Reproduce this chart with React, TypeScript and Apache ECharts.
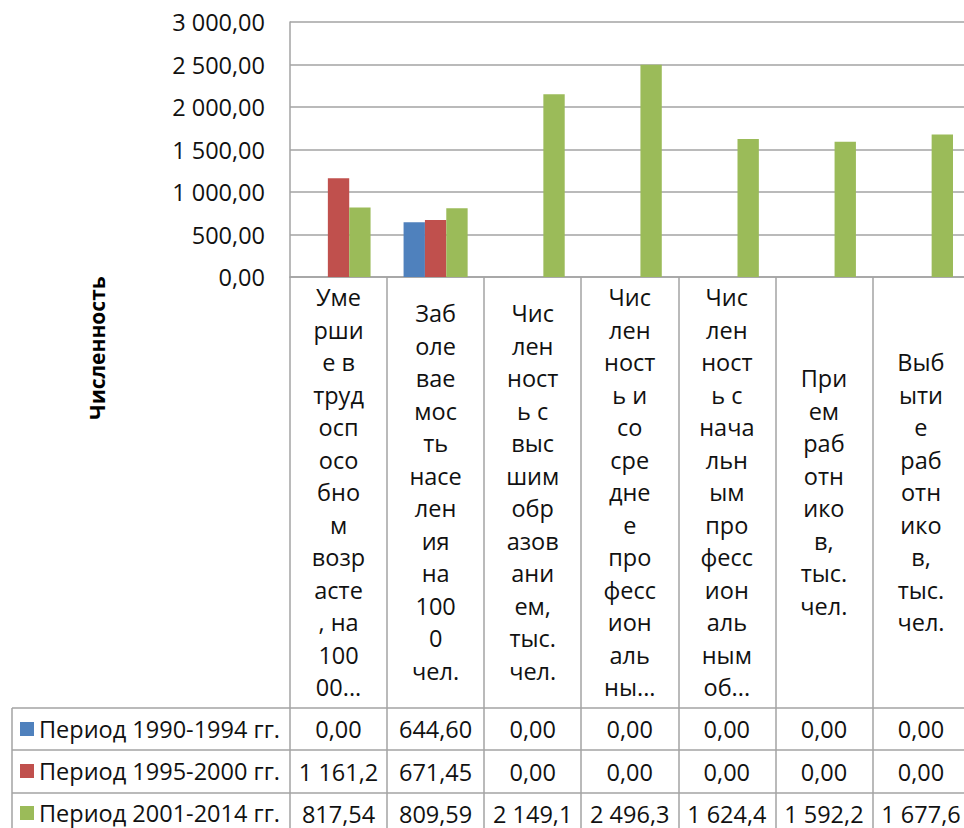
import React, { useEffect, useRef } from "react";
import * as echarts from "echarts";

// Indicator names, pre-wrapped the way the table header cells show them
const categories: string[] = [
  "Уме\nрши\nе в\nтруд\nосп\nосо\nбно\nм\nвозр\nасте\n, на\n100\n00...",
  "Заб\nоле\nвае\nмос\nть\nнасе\nлен\nия\nна\n100\n0\nчел.",
  "Чис\nлен\nност\nь с\nвыс\nшим\nобр\nазов\nани\nем,\nтыс.\nчел.",
  "Чис\nлен\nност\nь и\nсо\nсре\nдне\nе\nпро\nфесс\nион\nаль\nны...",
  "Чис\nлен\nност\nь с\nнача\nльн\nым\nпро\nфесс\nион\nаль\nным\nоб...",
  "При\nем\nраб\nотн\nико\nв,\nтыс.\nчел.",
  "Выб\nыти\nе\nраб\nотн\nико\nв,\nтыс.\nчел.",
];

const seriesNames: string[] = [
  "Период 1990-1994 гг.",
  "Период 1995-2000 гг.",
  "Период 2001-2014 гг.",
];

const period1990: number[] = [0, 644.6, 0, 0, 0, 0, 0];
const period1995: number[] = [1161.2, 671.45, 0, 0, 0, 0, 0];
const period2001: number[] = [817.54, 809.59, 2149.1, 2496.3, 1624.4, 1592.2, 1677.6];

const colors: string[] = ["#4F81BD", "#C0504D", "#9BBB59"];

const FONT = '"Open Sans", sans-serif';
const FS = 23.5;
const TEXT = "#111111";
const LINE = "#a3a3a3";

// the chart runs a little past the right edge of the visible frame
const CHART_W = 970;
const CHART_H = 828;

function group(intPart: string): string {
  return intPart.replace(/\B(?=(\d{3})+(?!\d))/g, " ");
}

function fmtAxis(v: number): string {
  const [i, d] = v.toFixed(2).split(".");
  return group(i) + "," + d;
}

// table cells: wide numbers lose their last decimal in the narrow column
function fmtCell(v: number): string {
  const s = v >= 1000 ? v.toFixed(1) : v.toFixed(2);
  const [i, d] = s.split(".");
  return group(i) + "," + d;
}

export default function App() {
  const ref = useRef<HTMLDivElement>(null);

  useEffect(() => {
    if (!ref.current) return;
    const chart = echarts.init(ref.current, undefined, { renderer: "svg" });

    const gridTop = 22;
    const axisY = 277;
    const rowCenters = [729, 771.5, 813.5];
    const rowLines = [708, 750, 793];

    const data = [period1990, period1995, period2001];

    const valueAxes = data.map((vals, k) => ({
      type: "category" as const,
      gridIndex: 0,
      position: "bottom" as const,
      offset: rowCenters[k] - axisY,
      data: vals.map(fmtCell),
      axisLine: { show: false },
      axisTick: { show: false },
      splitLine: { show: false },
      axisLabel: {
        interval: 0,
        margin: 0,
        verticalAlign: "middle" as const,
        fontFamily: FONT,
        fontSize: FS,
        color: TEXT,
      },
    }));

    chart.setOption({
      animation: false,
      backgroundColor: "#ffffff",
      textStyle: { fontFamily: FONT },
      grid: {
        left: 290,
        top: gridTop,
        right: 0.5,
        bottom: CHART_H - axisY,
        containLabel: false,
      },
      legend: {
        orient: "vertical",
        left: 20,
        top: 717,
        padding: 0,
        icon: "rect",
        itemWidth: 14,
        itemHeight: 14,
        itemGap: 18,
        selectedMode: false,
        textStyle: {
          fontFamily: FONT,
          fontSize: FS,
          color: TEXT,
          lineHeight: 24,
        },
        data: seriesNames,
      },
      xAxis: [
        {
          type: "category",
          data: categories,
          axisLine: { show: true, lineStyle: { color: LINE, width: 1.5 } },
          axisTick: {
            show: true,
            alignWithLabel: false,
            length: 560,
            lineStyle: { color: LINE, width: 1.5 },
          },
          axisLabel: {
            interval: 0,
            margin: 492 - axisY,
            verticalAlign: "middle",
            align: "center",
            fontFamily: FONT,
            fontSize: FS,
            lineHeight: 32.5,
            color: TEXT,
          },
          splitLine: { show: false },
        },
        ...valueAxes,
      ],
      yAxis: {
        type: "value",
        min: 0,
        max: 3000,
        interval: 500,
        axisLine: { show: true, lineStyle: { color: LINE, width: 1.5 } },
        axisTick: { show: false },
        splitLine: { show: true, lineStyle: { color: LINE, width: 1.5 } },
        axisLabel: {
          margin: 25,
          fontFamily: FONT,
          fontSize: FS,
          color: TEXT,
          formatter: (v: number) => fmtAxis(v),
        },
      },
      series: data.map((vals, k) => ({
        name: seriesNames[k],
        type: "bar",
        xAxisIndex: 0,
        data: vals,
        barGap: "0%",
        barCategoryGap: "34%",
        itemStyle: { color: colors[k] },
      })),
      graphic: [
        {
          type: "text",
          x: 97,
          y: 348,
          rotation: Math.PI / 2,
          style: {
            text: "Численность",
            font: `bold 21px ${FONT}`,
            fill: "#000000",
            align: "center",
            verticalAlign: "middle",
          },
        },
        ...rowLines.map((y) => ({
          type: "line",
          shape: { x1: 12, y1: y, x2: CHART_W, y2: y },
          style: { stroke: LINE, lineWidth: 1.5 },
        })),
        {
          type: "line",
          shape: { x1: 12, y1: rowLines[0], x2: 12, y2: CHART_H },
          style: { stroke: LINE, lineWidth: 1.5 },
        },
      ],
    });

    return () => chart.dispose();
  }, []);

  return (
    <div
      style={{
        position: "absolute",
        left: 0,
        top: 0,
        width: 964,
        height: 828,
        overflow: "hidden",
      }}
    >
      <div ref={ref} style={{ width: CHART_W, height: CHART_H }} />
    </div>
  );
}
